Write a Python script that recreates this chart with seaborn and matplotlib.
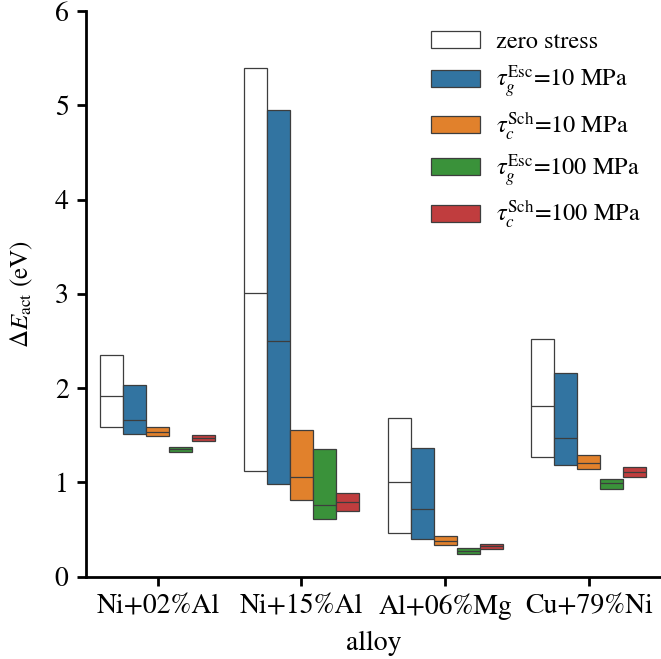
import numpy as np
import pandas as pd
import matplotlib
matplotlib.use("Agg")
import matplotlib.pyplot as plt
import seaborn as sns

alloys = ["Ni+02%Al", "Ni+15%Al", "Al+06%Mg", "Cu+79%Ni"]
conditions = ["zero stress",
              r"$\tau_g^{\rm Esc}$=10 MPa",
              r"$\tau_c^{\rm Sch}$=10 MPa",
              r"$\tau_g^{\rm Esc}$=100 MPa",
              r"$\tau_c^{\rm Sch}$=100 MPa"]

# rows: alloys, columns: conditions
low = [[1.59, 1.51, 1.49, 1.32, 1.44],
       [1.12, 0.98, 0.81, 0.61, 0.70],
       [0.46, 0.40, 0.34, 0.24, 0.295],
       [1.27, 1.18, 1.14, 0.93, 1.06]]
mid = [[1.92, 1.66, 1.54, 1.35, 1.47],
       [3.01, 2.505, 1.055, 0.76, 0.79],
       [1.00, 0.72, 0.38, 0.27, 0.32],
       [1.81, 1.47, 1.21, 0.99, 1.11]]
high = [[2.35, 2.03, 1.585, 1.38, 1.50],
        [5.40, 4.95, 1.56, 1.35, 0.885],
        [1.68, 1.37, 0.435, 0.30, 0.345],
        [2.52, 2.16, 1.295, 1.04, 1.165]]

palette = ["white", "tab:blue", "tab:orange", "tab:green", "tab:red"]

rows = []
for i, a in enumerate(alloys):
    for j, c in enumerate(conditions):
        for v in (low[i][j], low[i][j], mid[i][j], high[i][j], high[i][j]):
            rows.append({"alloy": a, "condition": c, "value": v})
df = pd.DataFrame(rows)

sns.set_theme(style="ticks", context="talk")
plt.rcParams["font.family"] = ["STIXGeneral", "DejaVu Serif"]
plt.rcParams["mathtext.fontset"] = "stix"
plt.rcParams["text.color"] = "black"
plt.rcParams["axes.labelcolor"] = "black"
plt.rcParams["xtick.color"] = "black"
plt.rcParams["ytick.color"] = "black"
plt.rcParams["axes.edgecolor"] = "black"

fig = plt.figure(figsize=(6.61, 6.59), dpi=100)
ax = fig.add_axes([0.13, 0.125, 0.8695, 0.858])
sns.boxplot(data=df, x="alloy", y="value", hue="condition", order=alloys,
            hue_order=conditions, palette=palette, width=0.8, gap=0,
            showcaps=False, showfliers=False, linewidth=0.9, ax=ax)
ax.set_ylim(0, 6)
ax.set_xlim(-0.5, 3.5)
ax.set_yticks([0, 1, 2, 3, 4, 5, 6])
ax.set_xlabel("alloy", fontsize=20, labelpad=7.5)
ax.set_ylabel(r"$\Delta E_{\rm act}$ (eV)", fontsize=18, labelpad=14)
for sp in ["left", "bottom"]:
    ax.spines[sp].set_linewidth(2)
ax.tick_params(width=2, length=6.5, labelsize=20, pad=6)
sns.despine(ax=ax)
leg = ax.legend(loc="upper left", frameon=False, fontsize=17.5, labelspacing=0.42,
                handlelength=2.0, handleheight=0.7, handletextpad=0.66,
                bbox_to_anchor=(0.584, 0.982), title=None, borderaxespad=0)
fig.savefig("out.png", dpi=100)
